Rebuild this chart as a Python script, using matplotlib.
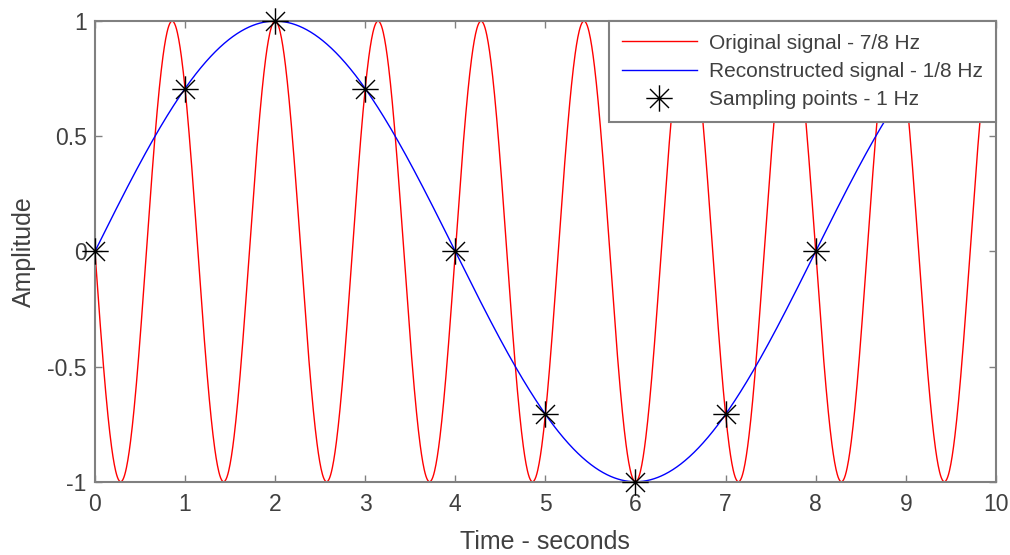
import numpy as np
import matplotlib.pyplot as plt
from matplotlib.path import Path

plt.rcParams['font.family'] = ['Liberation Sans', 'DejaVu Sans']

# signal definitions (frequencies in Hz)
f_orig = 7 / 8
f_recon = 1 / 8
t_end = 10

sample_t = [0, 1, 2, 3, 4, 5, 6, 7, 8]
sample_y = [0, 0.707, 1, 0.707, 0, -0.707, -1, -0.707, 0]

labels = ['Original signal - 7/8 Hz',
          'Reconstructed signal - 1/8 Hz',
          'Sampling points - 1 Hz']

t = np.linspace(0, t_end, 2001)
orig = -np.sin(2 * np.pi * f_orig * t)
recon = np.sin(2 * np.pi * f_recon * t)

# matlab style asterisk: plus + cross
d = 0.72
star = Path([(-1, 0), (1, 0), (0, -1), (0, 1),
             (-d, -d), (d, d), (-d, d), (d, -d)],
            [Path.MOVETO, Path.LINETO] * 4)

fig = plt.figure(figsize=(10.1, 5.55), dpi=100)
ax = fig.add_axes([0.094, 0.132, 0.892, 0.830])

ax.plot(t, orig, color='red', lw=1, label=labels[0])
ax.plot(t, recon, color='blue', lw=1, label=labels[1])
ax.plot(sample_t, sample_y, ls='none', marker=star, ms=19,
        mec='black', mew=1, color='black', label=labels[2], clip_on=False,
        zorder=5)

ax.set_xlim(0, 10)
ax.set_ylim(-1, 1)
ax.set_xticks(range(0, 11))
ax.set_yticks([-1, -0.5, 0, 0.5, 1])
ax.set_yticklabels(['-1', '-0.5', '0', '0.5', '1'])

gray = '#808080'
txt = '#404040'
for s in ax.spines.values():
    s.set_color(gray)
    s.set_linewidth(1.5)
ax.tick_params(direction='in', length=5, width=1, color=gray,
               top=True, right=True, labelsize=16.5, labelcolor=txt)
ax.tick_params(axis='x', pad=8)
ax.tick_params(axis='y', pad=6)
ax.set_xlabel('Time - seconds', fontsize=18, color=txt, labelpad=10)
ax.set_ylabel('Amplitude', fontsize=18, color=txt, labelpad=8)

leg = ax.legend(loc='upper right', fontsize=15, frameon=True, fancybox=False,
                framealpha=1, edgecolor=gray, borderaxespad=0,
                handlelength=3.6, labelspacing=0.45, borderpad=0.6,
                handletextpad=0.6)
leg.get_frame().set_linewidth(1.5)
for tx in leg.get_texts():
    tx.set_color(txt)

fig.savefig('out.png', dpi=100)
